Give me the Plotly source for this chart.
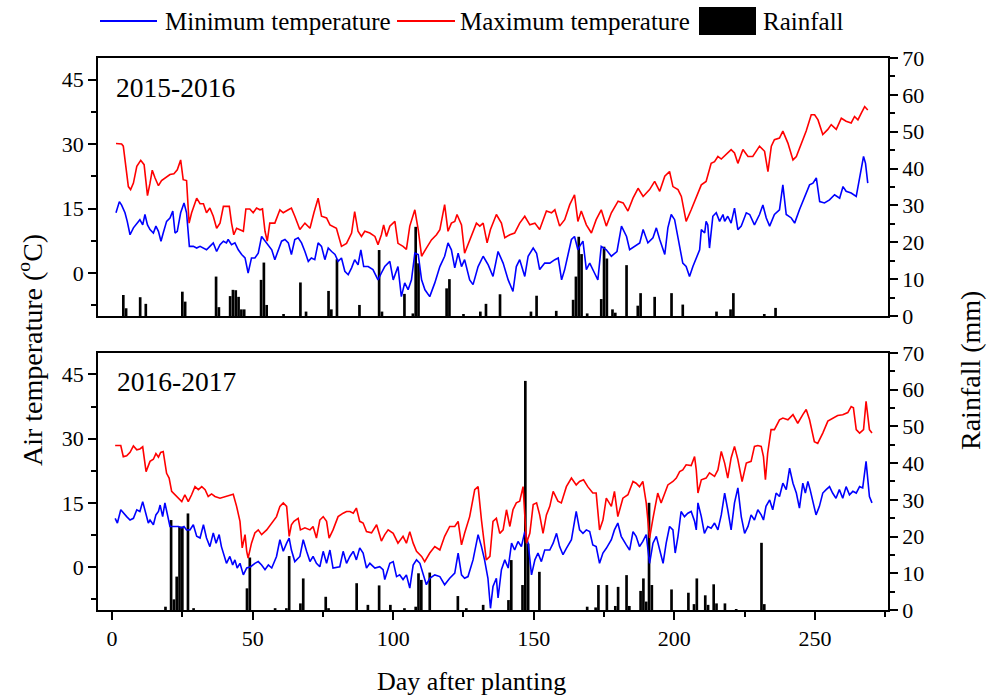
import plotly.graph_objects as go

# ---------------- 2015-2016 ----------------
day_max_15 = [1.4, 3.4, 4.0, 4.9, 5.8, 6.6, 7.6, 8.8, 10.2, 11.4,
              12.6, 13.5, 14.3, 15.3, 16.5, 17.6, 19.4, 20.6, 22.0, 23.2,
              24.4, 25.3, 26.5, 27.4, 28.3, 30.1, 31.3, 32.5, 33.6, 34.8,
              36.0, 37.2, 38.4, 39.6, 40.7, 41.7, 42.5, 43.3, 44.3, 45.5,
              46.7, 47.6, 49.0, 50.2, 51.4, 52.6, 53.5, 54.4, 55.2, 56.1,
              57.9, 59.7, 60.9, 62.7, 63.8, 65.0, 66.8, 68.6, 70.4, 71.8,
              73.3, 74.5, 76.3, 77.5, 79.8, 81.6, 83.4, 85.2, 86.3, 87.5,
              88.7, 89.9, 91.7, 93.5, 94.6, 95.8, 96.6, 97.6, 98.8, 100.6,
              101.7, 103.5, 104.7, 105.9, 107.7, 108.9, 110.1, 111.8, 113.6, 115.4,
              116.6, 118.3, 119.5, 120.7, 121.9, 122.7, 124.3, 125.4, 127.2, 129.6,
              130.8, 132.0, 133.4, 134.6, 136.7, 138.5, 139.7, 141.5, 143.2, 145.0,
              146.8, 148.6, 150.4, 152.1, 154.5, 156.3, 157.5, 159.2, 161.0, 162.8,
              164.5, 165.7, 166.9, 168.7, 170.5, 172.2, 174.0, 175.8, 177.6, 180.0,
              181.8, 183.5, 185.3, 187.1, 188.9, 191.2, 193.0, 194.8, 196.6, 198.3,
              199.5, 201.3, 202.5, 203.7, 204.2, 206.0, 207.8, 209.6, 211.3, 213.1,
              214.3, 215.5, 216.7, 218.4, 220.2, 221.4, 222.6, 224.4, 226.2, 227.9,
              230.3, 232.1, 233.3, 234.5, 235.6, 237.4, 238.6, 240.4, 242.2, 243.4,
              245.1, 246.9, 248.7, 249.9, 251.1, 252.8, 254.6, 255.8, 257.6, 259.4,
              261.1, 262.9, 264.1, 265.3, 266.5, 267.7, 268.8]
tmax_15 = [30.1, 30.0, 29.5, 24.8, 20.1, 19.4, 20.9, 24.8, 26.2, 25.2,
           18.0, 20.9, 23.9, 22.1, 20.3, 21.5, 22.3, 22.9, 23.1, 24.0,
           26.3, 21.7, 21.5, 11.6, 14.0, 17.4, 16.1, 16.1, 14.0, 15.1,
           13.2, 10.4, 11.6, 15.5, 15.5, 15.5, 11.6, 8.9, 10.4, 10.1,
           9.7, 14.9, 14.9, 14.0, 15.1, 14.7, 14.9, 9.7, 7.4, 11.6,
           11.6, 14.7, 14.0, 14.7, 15.1, 13.2, 10.1, 11.6, 10.4, 14.0,
           17.4, 13.2, 12.8, 11.2, 10.4, 6.2, 6.9, 9.3, 14.3, 9.7,
           8.5, 9.7, 9.3, 8.5, 6.6, 8.9, 11.2, 8.5, 10.9, 12.0,
           6.9, 6.2, 5.5, 10.9, 14.7, 10.1, 3.9, 5.8, 7.7, 8.9,
           10.1, 15.9, 9.7, 11.6, 12.0, 13.6, 11.2, 4.6, 7.7, 11.6,
           10.9, 11.6, 7.0, 10.1, 13.6, 11.6, 8.2, 8.9, 9.3, 11.6,
           13.2, 11.2, 11.6, 10.1, 14.4, 14.0, 14.7, 10.9, 12.4, 15.9,
           18.2, 12.0, 14.4, 11.2, 9.3, 12.4, 14.7, 10.9, 14.0, 16.7,
           16.3, 14.4, 17.4, 19.7, 17.8, 19.4, 21.3, 19.0, 22.5, 23.6,
           20.1, 19.4, 17.8, 13.6, 12.0, 14.7, 17.8, 20.5, 21.3, 25.5,
           25.9, 27.1, 26.5, 27.5, 28.7, 27.9, 25.5, 28.7, 27.1, 27.1,
           29.5, 28.3, 23.6, 29.5, 31.0, 31.4, 33.0, 30.2, 26.3, 27.1,
           29.8, 33.0, 36.8, 36.8, 35.6, 32.2, 33.4, 34.5, 33.4, 36.0,
           35.3, 34.9, 36.4, 35.6, 37.2, 38.7, 37.9]

day_min_15 = [1.4, 2.6, 3.4, 4.6, 5.4, 6.4, 7.6, 8.8, 9.9, 10.9,
              11.7, 12.6, 13.5, 14.7, 15.6, 16.5, 17.4, 18.2, 19.4, 20.6,
              21.6, 22.4, 23.2, 24.4, 25.6, 26.5, 27.5, 28.9, 30.1, 31.3,
              32.5, 33.6, 34.8, 36.0, 37.2, 38.4, 39.6, 40.7, 41.3, 42.5,
              43.7, 44.9, 46.1, 47.3, 48.4, 49.6, 50.8, 52.0, 53.2, 54.4,
              55.6, 56.8, 57.9, 59.1, 60.3, 61.5, 62.7, 63.8, 65.0, 66.2,
              67.4, 68.6, 69.8, 70.9, 72.1, 73.3, 74.5, 75.7, 76.9, 78.1,
              79.3, 80.4, 81.6, 82.8, 84.0, 85.2, 86.3, 87.5, 88.5, 89.5,
              91.1, 92.8, 94.6, 95.8, 97.0, 98.8, 100.0, 101.7, 102.9, 104.1,
              105.3, 106.5, 107.7, 108.9, 110.1, 111.3, 113.0, 114.8, 116.6, 118.3,
              119.5, 120.7, 121.9, 123.1, 124.3, 125.4, 127.2, 128.4, 130.2, 132.0,
              133.8, 135.5, 137.3, 139.1, 140.9, 142.6, 143.8, 145.0, 146.8, 148.0,
              149.8, 151.0, 152.1, 153.9, 155.7, 157.5, 158.7, 159.9, 161.0, 162.2,
              163.4, 164.5, 165.7, 166.3, 167.5, 168.7, 169.9, 171.6, 172.8, 174.0,
              175.8, 177.6, 179.6, 181.2, 183.0, 184.1, 185.9, 187.7, 188.9, 190.6,
              192.4, 193.6, 194.8, 196.6, 197.7, 198.9, 200.1, 201.3, 203.0, 204.2,
              205.4, 206.6, 207.8, 209.0, 209.6, 210.8, 211.3, 211.9, 212.5, 213.7,
              214.9, 216.1, 217.3, 217.9, 219.0, 220.2, 221.4, 222.6, 223.8, 225.6,
              226.8, 228.5, 230.3, 231.5, 232.7, 233.9, 235.6, 237.4, 238.6, 239.8,
              241.6, 242.8, 244.5, 246.3, 248.1, 249.3, 250.5, 251.7, 253.4, 255.2,
              257.0, 258.8, 260.0, 261.1, 262.9, 264.7, 265.9, 267.3, 268.0, 268.8]
tmin_15 = [14.0, 16.6, 15.8, 14.0, 12.0, 8.9, 10.5, 11.6, 12.4, 11.2,
           13.6, 11.2, 10.1, 9.3, 10.9, 9.7, 7.4, 9.3, 12.0, 12.8,
           14.4, 9.3, 9.7, 14.0, 16.3, 14.0, 6.2, 6.2, 5.8, 6.2,
           5.8, 5.4, 6.2, 7.0, 5.0, 6.6, 7.4, 7.0, 7.8, 6.6,
           7.0, 5.4, 4.3, 3.5, 0.0, 3.5, 3.5, 4.6, 8.5, 7.4,
           6.2, 5.4, 3.1, 5.4, 7.4, 7.8, 7.0, 4.3, 7.8, 8.2,
           7.0, 5.0, 2.7, 3.5, 3.1, 7.0, 6.2, 3.1, 5.8, 5.0,
           4.3, 2.7, 3.5, 0.4, -0.4, 1.2, 3.1, 1.9, 5.4, 1.5,
           1.5, 0.8, -1.6, 0.0, 1.5, 2.7, -1.6, 1.5, -5.5, -2.3,
           -3.9, -1.6, 4.6, 4.3, -1.6, -3.9, -5.5, -2.3, 1.5, 3.9,
           7.0, 5.4, 1.2, 4.6, 1.5, 3.1, -1.6, -2.7, 1.5, 3.9,
           1.9, -0.8, 5.0, 2.3, -1.6, -4.3, 1.5, 3.1, -0.8, 3.9,
           5.8, 4.6, 0.8, 2.3, 2.3, 3.1, 3.5, -1.6, 0.8, 4.3,
           7.8, 8.5, 5.4, 6.2, 7.4, 0.8, 2.3, 0.0, -1.6, 6.2,
           5.4, 3.9, 5.0, 10.9, 8.5, 5.4, 6.2, 7.0, 10.1, 7.0,
           8.2, 10.5, 7.8, 4.3, 10.5, 13.6, 12.4, 8.5, 2.3, 1.5,
           -0.8, 1.5, 3.5, 5.4, 10.1, 9.3, 12.0, 11.2, 5.8, 13.2,
           14.0, 12.0, 13.6, 12.0, 13.2, 11.6, 15.1, 10.1, 10.9, 14.0,
           13.6, 11.2, 13.6, 15.8, 12.8, 10.9, 13.6, 14.7, 20.5, 13.6,
           12.8, 11.6, 14.7, 17.4, 20.5, 20.9, 22.1, 16.6, 16.3, 17.0,
           18.2, 17.4, 20.1, 19.0, 18.6, 17.8, 21.7, 27.1, 25.5, 20.9]

day_rain_15 = [4, 5, 10, 12, 25, 26, 37, 38, 42, 43,
               44, 45, 46, 47, 53, 54, 55, 61, 67, 69,
               77, 78, 80, 88, 95, 96, 104, 107, 108, 109,
               119, 120, 125, 131, 133, 138, 149, 151, 158, 164,
               165, 166, 167, 169, 174, 175, 176, 178, 179, 183,
               187, 188, 193, 199, 203, 215, 220, 221, 232, 236]
rain_15 = [5.7, 2.1, 5.1, 3.3, 6.6, 3.9, 10.7, 2.4, 5.4, 7.1,
           7.0, 5.2, 1.8, 1.8, 9.8, 14.5, 3.0, 0.5, 9.1, 1.2,
           6.8, 1.8, 15.4, 3.0, 17.9, 1.2, 6.0, 0.7, 24.2, 14.3,
           7.5, 10.0, 0.3, 1.2, 3.3, 5.9, 1.2, 5.5, 1.4, 4.4,
           10.7, 21.5, 16.8, 0.7, 4.6, 18.8, 15.6, 1.8, 0.9, 13.8,
           2.8, 6.2, 5.2, 6.2, 3.1, 1.2, 1.8, 6.2, 0.5, 2.2]

# ---------------- 2016-2017 ----------------
day_max_16 = [1.1, 3.1, 4.0, 5.2, 6.4, 7.6, 8.8, 9.9, 10.9, 12.1,
              13.5, 14.7, 15.6, 16.5, 17.3, 18.2, 19.4, 20.3, 21.2, 23.0,
              24.8, 25.9, 27.1, 28.3, 29.5, 30.7, 31.9, 33.1, 34.2, 35.4,
              36.6, 38.4, 40.2, 41.9, 43.1, 44.3, 45.5, 46.3, 47.3, 47.9,
              48.4, 49.6, 50.8, 52.0, 53.2, 55.0, 56.7, 58.5, 59.7, 60.9,
              62.1, 63.0, 63.8, 64.7, 66.2, 67.0, 68.6, 70.4, 71.5, 72.7,
              73.9, 75.1, 76.3, 77.2, 78.6, 80.4, 82.2, 83.4, 84.6, 85.8,
              86.9, 88.1, 89.3, 90.5, 92.3, 94.1, 95.8, 97.0, 98.2, 100.0,
              101.7, 103.5, 104.7, 105.9, 107.1, 108.3, 110.1, 111.2, 113.0, 114.8,
              116.6, 118.3, 120.1, 121.9, 123.1, 124.3, 125.4, 127.2, 129.0, 130.2,
              131.4, 133.1, 134.4, 135.5, 136.7, 137.9, 139.1, 140.3, 141.5, 142.6,
              143.8, 145.0, 146.2, 147.4, 148.6, 149.8, 151.0, 152.1, 153.3, 154.5,
              155.7, 156.9, 158.6, 159.8, 161.6, 163.4, 165.1, 166.3, 167.7, 169.2,
              171.0, 172.2, 173.4, 174.6, 175.8, 177.6, 178.7, 179.9, 181.7, 183.5,
              185.3, 186.4, 187.6, 188.8, 190.0, 191.2, 192.4, 194.1, 195.3, 196.5,
              197.7, 199.5, 200.7, 201.9, 203.0, 204.2, 206.0, 207.2, 207.8, 208.4,
              209.6, 211.3, 212.5, 214.3, 215.5, 216.7, 217.9, 219.0, 220.2, 221.4,
              222.6, 224.1, 225.6, 227.3, 228.5, 229.7, 230.9, 231.7, 232.4, 233.2,
              234.4, 235.6, 237.4, 238.6, 240.4, 242.2, 243.9, 245.7, 246.9, 248.1,
              249.8, 251.0, 252.8, 254.6, 256.3, 258.1, 259.9, 261.7, 262.9, 263.7,
              264.7, 265.9, 267.3, 268.2, 269.4, 270.3]
tmax_16 = [28.4, 28.4, 25.8, 26.0, 26.8, 28.3, 27.4, 27.6, 28.1, 22.3,
           24.7, 25.2, 26.5, 25.7, 26.8, 27.0, 21.9, 20.8, 17.7, 16.5,
           15.3, 16.9, 15.3, 16.9, 18.8, 18.1, 18.8, 18.1, 16.5, 17.1,
           16.5, 16.1, 16.5, 16.9, 17.0, 14.2, 10.7, 4.5, 7.6, 3.7,
           2.1, 5.6, 8.0, 8.7, 7.6, 8.7, 10.3, 11.8, 14.2, 15.0,
           14.2, 7.2, 9.9, 10.7, 11.4, 8.7, 9.2, 8.7, 9.5, 6.8,
           11.0, 11.8, 10.7, 6.8, 8.7, 11.8, 12.6, 13.0, 13.0, 12.6,
           13.8, 10.7, 10.3, 8.3, 8.0, 9.9, 6.1, 7.6, 8.7, 7.9,
           5.6, 7.2, 5.6, 8.3, 5.6, 3.7, 2.5, 1.3, 3.3, 4.8,
           4.0, 7.2, 9.5, 9.5, 10.7, 5.2, 7.9, 11.8, 18.1, 18.8,
           11.0, 1.7, 2.5, 10.7, 11.4, 7.9, 8.7, 13.4, 9.5, 13.4,
           15.0, 15.4, 18.8, 5.6, 7.9, 14.6, 15.0, 12.2, 7.9, 12.2,
           14.2, 17.7, 15.4, 15.0, 18.8, 20.8, 19.2, 20.0, 20.4, 18.8,
           17.3, 17.3, 8.7, 11.0, 16.1, 14.2, 17.7, 11.8, 16.1, 16.9,
           20.0, 19.6, 18.8, 20.0, 15.0, 6.8, 11.4, 17.3, 15.0, 17.3,
           19.2, 20.0, 20.8, 22.3, 22.7, 23.9, 23.7, 25.8, 22.7, 17.3,
           20.4, 20.8, 22.0, 21.2, 22.7, 27.0, 24.3, 20.8, 25.5, 28.2,
           25.1, 20.0, 24.3, 24.7, 28.2, 28.4, 28.2, 25.8, 20.4, 26.6,
           32.1, 32.1, 34.4, 34.8, 34.4, 35.6, 33.6, 35.6, 36.8, 34.4,
           29.3, 28.9, 31.3, 34.1, 34.8, 35.4, 35.6, 36.1, 37.5, 37.2,
           32.1, 31.3, 32.1, 38.7, 32.1, 31.3]

day_min_16 = [1.1, 1.9, 3.1, 4.0, 5.2, 6.4, 7.6, 8.8, 9.9, 10.9,
              11.7, 12.9, 13.5, 14.7, 15.6, 16.5, 17.1, 18.0, 18.8, 19.7,
              20.6, 21.8, 23.6, 24.8, 25.6, 26.5, 27.7, 28.9, 30.1, 31.3,
              32.5, 33.6, 34.8, 36.0, 37.0, 38.1, 38.9, 40.7, 41.9, 42.9,
              43.7, 44.5, 45.5, 46.7, 47.9, 49.3, 50.8, 52.0, 53.2, 54.4,
              55.6, 56.8, 58.5, 59.7, 60.9, 62.1, 63.0, 63.8, 65.0, 66.8,
              68.0, 69.2, 70.4, 71.5, 72.7, 73.9, 75.1, 76.3, 77.5, 78.6,
              79.8, 81.0, 82.2, 83.4, 84.6, 85.8, 86.9, 88.1, 89.3, 90.5,
              91.7, 93.5, 95.2, 96.4, 97.0, 98.2, 98.8, 100.0, 101.2, 102.3,
              103.5, 104.7, 105.9, 107.1, 108.3, 109.5, 110.6, 111.8, 113.0, 114.8,
              116.6, 118.3, 120.1, 121.9, 123.1, 124.3, 125.4, 126.6, 128.4, 130.2,
              131.4, 132.5, 133.7, 134.6, 135.5, 136.7, 137.3, 138.5, 139.7, 140.9,
              142.1, 143.2, 144.4, 145.6, 146.8, 148.0, 149.2, 150.4, 151.5, 152.7,
              153.9, 155.7, 156.9, 158.1, 159.2, 160.4, 161.6, 163.4, 165.1, 166.3,
              167.5, 168.7, 169.9, 171.0, 172.2, 173.4, 174.6, 175.8, 177.6, 178.7,
              179.9, 181.1, 182.9, 184.1, 185.3, 186.4, 187.6, 188.8, 190.0, 191.2,
              192.4, 193.6, 194.8, 196.0, 197.1, 198.3, 199.5, 200.3, 201.3, 202.4,
              203.6, 204.8, 206.0, 207.2, 207.8, 208.4, 209.6, 210.7, 211.9, 213.1,
              214.3, 215.5, 216.7, 217.9, 219.0, 220.2, 221.4, 222.6, 223.8, 225.0,
              226.2, 227.3, 228.5, 229.7, 230.9, 231.7, 232.6, 233.9, 235.0, 236.2,
              237.4, 238.6, 239.8, 241.0, 242.2, 243.4, 244.5, 245.7, 246.6, 247.5,
              248.3, 249.5, 250.4, 251.6, 252.8, 254.0, 255.2, 256.3, 257.5, 258.7,
              259.9, 261.1, 262.3, 263.5, 264.7, 265.9, 267.0, 268.2, 269.4, 270.3]
tmin_16 = [11.4, 10.3, 13.4, 12.6, 11.8, 11.0, 11.4, 13.4, 13.0, 15.3,
           13.0, 10.3, 11.0, 9.9, 12.2, 13.0, 14.5, 11.8, 15.0, 11.8,
           9.5, 9.5, 9.5, 9.2, 9.5, 8.7, 8.7, 9.9, 7.2, 6.8,
           9.9, 6.8, 4.8, 8.0, 5.6, 7.6, 4.8, 0.9, 2.5, 0.5,
           1.7, -0.2, 0.9, -1.8, -0.2, 0.1, 0.9, 1.3, 0.5, -0.6,
           0.5, -0.2, 2.5, 6.4, 3.7, 5.6, 6.8, 4.0, 1.3, 2.5,
           6.4, 3.7, 1.3, 2.5, 0.9, 0.1, 3.7, 0.9, 4.0, -0.2,
           0.0, 0.1, 3.7, 0.9, 2.5, 3.7, 1.7, 4.5, 3.3, -0.2,
           0.9, -0.2, 0.1, -0.6, -2.9, -0.6, 0.9, 1.3, -2.2, -1.8,
           -2.9, -1.8, -4.9, 0.5, 1.7, 0.9, -1.4, -4.1, -2.6, -1.8,
           -2.2, -4.1, -2.6, -1.4, 3.3, -1.8, -2.6, -2.2, 1.7, 7.6,
           4.8, 1.7, -2.6, -9.6, -4.5, -2.6, -7.2, -0.6, 1.7, -0.2,
           5.6, 4.0, 6.0, 4.8, 8.3, 5.6, -1.8, 1.7, 3.3, 1.3,
           4.0, 4.0, 5.6, 7.9, 4.8, 2.9, 4.4, 6.4, 13.0, 8.7,
           7.9, 8.7, 8.3, 5.2, 4.8, 0.9, 3.3, 4.4, 6.4, 8.7,
           10.3, 7.2, 5.2, 4.0, 8.3, 7.2, 4.8, 6.0, 7.6, 0.9,
           5.6, 7.2, 4.0, 0.9, 5.6, 9.5, 8.7, 3.3, 7.2, 13.0,
           11.8, 12.6, 13.0, 10.7, 8.7, 15.0, 11.8, 7.9, 9.5, 9.1,
           10.3, 8.7, 12.2, 17.3, 13.4, 8.7, 15.0, 18.5, 11.8, 7.9,
           9.5, 12.2, 11.0, 13.4, 12.2, 11.0, 14.2, 15.7, 13.4, 17.3,
           16.5, 19.6, 18.1, 23.1, 19.6, 17.3, 13.8, 19.6, 17.3, 20.0,
           18.1, 15.0, 12.2, 14.2, 17.3, 18.1, 18.8, 17.3, 16.1, 18.1,
           16.1, 18.8, 16.9, 17.7, 17.3, 18.8, 18.5, 24.7, 16.5, 15.0]

day_rain_16 = [19, 21, 22, 23, 24, 25, 27, 29, 48, 49,
               58, 62, 63, 67, 68, 76, 77, 87, 91, 95,
               99, 104, 108, 109, 110, 113, 123, 126, 132, 141,
               142, 146, 147, 148, 152, 169, 172, 173, 176, 179,
               180, 183, 184, 188, 189, 190, 191, 192, 199, 205,
               207, 208, 211, 212, 214, 215, 218, 222, 231, 232]
rain_16 = [0.9, 24.5, 2.9, 9.1, 22.7, 22.7, 26.3, 0.5, 5.9, 14.3,
           0.5, 0.5, 14.7, 1.8, 8.6, 3.6, 0.5, 7.3, 1.4, 6.7,
           1.4, 0.5, 0.9, 10.0, 8.2, 10.2, 3.8, 0.5, 1.4, 2.7,
           13.6, 6.8, 62.4, 18.1, 10.4, 0.9, 0.7, 6.8, 6.8, 1.1,
           6.3, 9.5, 1.1, 5.2, 8.6, 2.3, 29.2, 6.8, 5.6, 4.7,
           1.6, 8.6, 4.0, 1.4, 7.0, 1.8, 1.8, 0.2, 18.3, 1.6]

season_labels = ["2015-2016", "2016-2017"]
series_names = ["Minimum temperature", "Maximum temperature", "Rainfall"]
temp_ticks = [0, 15, 30, 45]
rain_ticks = [0, 10, 20, 30, 40, 50, 60, 70]
day_ticks = [0, 50, 100, 150, 200, 250]

BLUE = "#0000ff"
RED = "#ff0000"
FONT = "Liberation Serif"

# plot-area geometry in pixels (for placing legend items in paper space)
W, H = 993, 698
ML, MR, MT, MB = 98, 105, 58, 88
PW, PH = W - ML - MR, H - MT - MB


def px(x):
    return (x - ML) / PW


def py(y):
    return (H - MB - y) / PH


fig = go.Figure()

# top panel (x2 / y3 rain, y4 temp)
fig.add_trace(go.Bar(x=day_rain_15, y=rain_15, width=0.95, name=series_names[2],
                     marker=dict(color="black", line=dict(width=0)),
                     showlegend=False, xaxis="x2", yaxis="y3"))
fig.add_trace(go.Scatter(x=day_min_15, y=tmin_15, mode="lines", name=series_names[0], showlegend=False,
                         line=dict(color=BLUE, width=1.6), xaxis="x2", yaxis="y4"))
fig.add_trace(go.Scatter(x=day_max_15, y=tmax_15, mode="lines", name=series_names[1], showlegend=False,
                         line=dict(color=RED, width=1.6), xaxis="x2", yaxis="y4"))
# bottom panel (x / y rain, y2 temp)
fig.add_trace(go.Bar(x=day_rain_16, y=rain_16, width=0.95, name=series_names[2],
                     marker=dict(color="black", line=dict(width=0)),
                     showlegend=False, xaxis="x", yaxis="y"))
fig.add_trace(go.Scatter(x=day_min_16, y=tmin_16, mode="lines", name=series_names[0], showlegend=False,
                         line=dict(color=BLUE, width=1.6), xaxis="x", yaxis="y2"))
fig.add_trace(go.Scatter(x=day_max_16, y=tmax_16, mode="lines", name=series_names[1], showlegend=False,
                         line=dict(color=RED, width=1.6), xaxis="x", yaxis="y2"))

axcommon = dict(showgrid=False, zeroline=False, showline=True, linecolor="black", linewidth=1.5,
                tickcolor="black", tickwidth=1.5, ticklen=8,
                tickfont=dict(family=FONT, size=22, color="black"))
minor_style = dict(ticks="outside", ticklen=5, tickwidth=1.5, tickcolor="black")

TOP = [0.5326, 1.0]
BOT = [0.0, 0.4656]
XR = [-5, 276]

# legend drawn in the top margin, as in the reference
LEG_Y = 21
legend_shapes = [
    dict(type="line", xref="paper", yref="paper", x0=px(100), x1=px(157), y0=py(LEG_Y), y1=py(LEG_Y),
         line=dict(color=BLUE, width=1.8)),
    dict(type="line", xref="paper", yref="paper", x0=px(397), x1=px(455), y0=py(LEG_Y), y1=py(LEG_Y),
         line=dict(color=RED, width=1.8)),
    dict(type="rect", xref="paper", yref="paper", x0=px(699), x1=px(756), y0=py(35), y1=py(7),
         fillcolor="black", line=dict(color="black", width=0)),
]
legend_texts = [
    dict(text=series_names[0], xref="paper", yref="paper", x=px(163), y=py(LEG_Y + 1),
         xanchor="left", yanchor="middle", showarrow=False, font=dict(family=FONT, size=25)),
    dict(text=series_names[1], xref="paper", yref="paper", x=px(458), y=py(LEG_Y + 1),
         xanchor="left", yanchor="middle", showarrow=False, font=dict(family=FONT, size=25)),
    dict(text=series_names[2], xref="paper", yref="paper", x=px(761), y=py(LEG_Y + 1),
         xanchor="left", yanchor="middle", showarrow=False, font=dict(family=FONT, size=25)),
]

fig.update_layout(
    width=W, height=H,
    margin=dict(l=ML, r=MR, t=MT, b=MB, autoexpand=False),
    paper_bgcolor="white", plot_bgcolor="white",
    font=dict(family=FONT, color="black"),
    barmode="overlay",
    showlegend=False,
    xaxis=dict(**axcommon, domain=[0, 1], anchor="y", range=XR, mirror=True, ticks="outside",
               tickmode="array", tickvals=day_ticks, minor=dict(dtick=25, tick0=0, **minor_style)),
    xaxis2=dict(**axcommon, domain=[0, 1], anchor="y3", range=XR, mirror=True, ticks="",
                showticklabels=False, matches="x"),
    yaxis=dict(**axcommon, domain=BOT, anchor="x", side="right", range=[0, 70], mirror=True,
               ticks="outside", tickmode="array", tickvals=rain_ticks,
               minor=dict(dtick=5, tick0=0, **minor_style)),
    yaxis2=dict(**axcommon, overlaying="y", anchor="x", side="left", range=[-10, 50],
                ticks="outside", tickmode="array", tickvals=temp_ticks,
                minor=dict(dtick=7.5, tick0=0, **minor_style)),
    yaxis3=dict(**axcommon, domain=TOP, anchor="x2", side="right", range=[0, 70], mirror=True,
                ticks="outside", tickmode="array", tickvals=rain_ticks,
                minor=dict(dtick=5, tick0=0, **minor_style)),
    yaxis4=dict(**axcommon, overlaying="y3", anchor="x2", side="left", range=[-10, 50],
                ticks="outside", tickmode="array", tickvals=temp_ticks,
                minor=dict(dtick=7.5, tick0=0, **minor_style)),
    shapes=legend_shapes,
    annotations=legend_texts + [
        dict(text=season_labels[0], xref="paper", yref="paper", x=px(114), y=py(87),
             xanchor="left", yanchor="middle", showarrow=False, font=dict(family=FONT, size=27.5)),
        dict(text=season_labels[1], xref="paper", yref="paper", x=px(115), y=py(382),
             xanchor="left", yanchor="middle", showarrow=False, font=dict(family=FONT, size=27.5)),
        dict(text="Air temperature (<sup>o</sup>C)", xref="paper", yref="paper", x=px(30), y=py(350),
             xanchor="center", yanchor="middle", textangle=-90, showarrow=False,
             font=dict(family=FONT, size=28)),
        dict(text="Rainfall (mm)", xref="paper", yref="paper", x=px(970), y=py(371),
             xanchor="center", yanchor="middle", textangle=-90, showarrow=False,
             font=dict(family=FONT, size=28)),
        dict(text="Day after planting", xref="paper", yref="paper", x=px(471), y=py(681),
             xanchor="center", yanchor="middle", showarrow=False, font=dict(family=FONT, size=26)),
    ],
)

fig.write_html("out.html")
